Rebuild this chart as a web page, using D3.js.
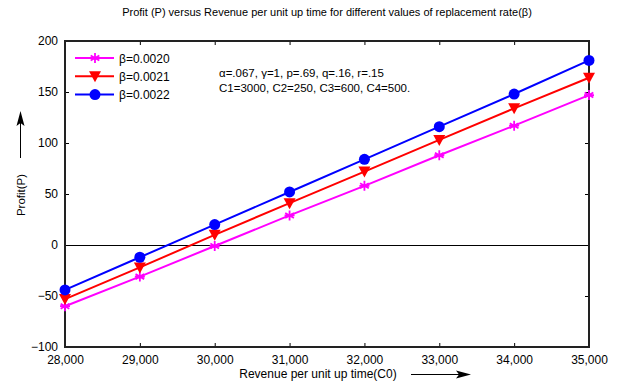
<!DOCTYPE html>
<html>
<head>
<meta charset="utf-8">
<style>
  body { margin: 0; background: #fff; }
  text { font-family: "Liberation Sans", Arial, sans-serif; fill: #000; }
</style>
</head>
<body>
<svg id="chart" width="621" height="382"></svg>
<script src="https://cdn.jsdelivr.net/npm/d3@7"></script>
<script>
var revenue = [28000, 29000, 30000, 31000, 32000, 33000, 34000, 35000];
var beta20 = [-60, -31, -1, 29, 58, 88, 117, 147];
var beta21 = [-53, -22, 10, 41, 72, 103, 134, 164];
var beta22 = [-44, -12, 20, 52, 84, 116, 148, 181];
var seriesNames = ["\u03b2=0.0020", "\u03b2=0.0021", "\u03b2=0.0022"];
var yTicks = [-100, -50, 0, 50, 100, 150, 200];

var series = [
  { name: seriesNames[0], values: beta20, color: "#ff00ff", marker: "star" },
  { name: seriesNames[1], values: beta21, color: "#ff0000", marker: "tri" },
  { name: seriesNames[2], values: beta22, color: "#0000ff", marker: "circle" }
];

var svg = d3.select("#chart");
var plotLeft = 65, plotRight = 589, plotTop = 41, plotBottom = 347;

var x = d3.scaleLinear().domain([28000, 35000]).range([plotLeft, plotRight]);
var y = d3.scaleLinear().domain([-100, 200]).range([plotBottom, plotTop]);

// title
svg.append("text")
  .attr("x", 327).attr("y", 16)
  .attr("text-anchor", "middle")
  .style("font-size", "11px")
  .text("Profit (P) versus Revenue per unit up time for different values of replacement rate(\u03b2)");

// zero line
svg.append("line")
  .attr("x1", plotLeft).attr("x2", plotRight)
  .attr("y1", y(0) + 0.5).attr("y2", y(0) + 0.5)
  .attr("stroke", "#000").attr("stroke-width", 1);

// axes (ticks pointing inward, matlab style)
var fmt = d3.format(",");
svg.append("g")
  .attr("transform", "translate(0," + plotBottom + ")")
  .call(d3.axisBottom(x).tickValues(revenue).tickFormat(fmt).tickSizeInner(-4).tickSizeOuter(0).tickPadding(8))
  .call(function (g) { g.select(".domain").remove(); g.selectAll("text").style("font-size", "12px"); });
svg.append("g")
  .attr("transform", "translate(0," + plotTop + ")")
  .call(d3.axisTop(x).tickValues(revenue).tickFormat("").tickSizeInner(-4).tickSizeOuter(0))
  .call(function (g) { g.select(".domain").remove(); });
svg.append("g")
  .attr("transform", "translate(" + plotLeft + ",0)")
  .call(d3.axisLeft(y).tickValues(yTicks).tickSizeInner(-4).tickSizeOuter(0).tickPadding(7))
  .call(function (g) { g.select(".domain").remove(); g.selectAll("text").style("font-size", "12px"); });
svg.append("g")
  .attr("transform", "translate(" + plotRight + ",0)")
  .call(d3.axisRight(y).tickValues(yTicks).tickFormat("").tickSizeInner(-4).tickSizeOuter(0))
  .call(function (g) { g.select(".domain").remove(); });

svg.append("rect")
  .attr("x", plotLeft).attr("y", plotTop)
  .attr("width", plotRight - plotLeft).attr("height", plotBottom - plotTop)
  .attr("fill", "none").attr("stroke", "#222").attr("stroke-width", 2);

// marker drawing
function drawMarker(g, type, color, cx, cy) {
  if (type === "circle") {
    g.append("circle").attr("cx", cx).attr("cy", cy).attr("r", 5.5).attr("fill", color);
  } else if (type === "tri") {
    g.append("path")
      .attr("d", "M" + (cx - 6) + "," + (cy - 5) + "L" + (cx + 6) + "," + (cy - 5) + "L" + cx + "," + (cy + 6) + "Z")
      .attr("fill", color);
  } else {
    var p = "";
    [0, 60, 120].forEach(function (a) {
      var r = a * Math.PI / 180, dx = 5 * Math.sin(r), dy = 5 * Math.cos(r);
      p += "M" + (cx - dx) + "," + (cy - dy) + "L" + (cx + dx) + "," + (cy + dy);
    });
    p += "M" + (cx - 5) + "," + cy + "L" + (cx + 5) + "," + cy;
    g.append("path").attr("d", p).attr("stroke", color).attr("stroke-width", 1.8).attr("fill", "none");
  }
}

var line = d3.line().x(function (d, i) { return x(revenue[i]); }).y(function (d) { return y(d); });

series.forEach(function (s) {
  var g = svg.append("g");
  g.append("path").datum(s.values)
    .attr("d", line).attr("fill", "none")
    .attr("stroke", s.color).attr("stroke-width", 2);
  s.values.forEach(function (v, i) { drawMarker(g, s.marker, s.color, x(revenue[i]), y(v)); });
});

// legend
series.forEach(function (s, i) {
  var ly = 58 + i * 18.3;
  var g = svg.append("g");
  g.append("line").attr("x1", 75).attr("x2", 114).attr("y1", ly).attr("y2", ly)
    .attr("stroke", s.color).attr("stroke-width", 2);
  drawMarker(g, s.marker, s.color, 95, ly);
  g.append("text").attr("x", 119).attr("y", ly + 4.5)
    .style("font-size", "12px").text(s.name);
});

// parameter annotation
svg.append("text").attr("x", 219).attr("y", 77).style("font-size", "11.5px")
  .text("\u03b1=.067, \u03b3=1, p=.69, q=.16, r=.15");
svg.append("text").attr("x", 219).attr("y", 92).style("font-size", "11.5px")
  .text("C1=3000, C2=250, C3=600, C4=500.");

// axis labels with arrows
svg.append("text")
  .attr("transform", "translate(25,195) rotate(-90)")
  .attr("text-anchor", "middle").style("font-size", "11.5px")
  .text("Profit(P)");
svg.append("line").attr("x1", 20.5).attr("x2", 20.5).attr("y1", 158).attr("y2", 120)
  .attr("stroke", "#000").attr("stroke-width", 1);
svg.append("path").attr("d", "M20.5,111 L16.5,126 L20.5,123 L24.5,126 Z").attr("fill", "#000");

svg.append("text")
  .attr("x", 318).attr("y", 378)
  .attr("text-anchor", "middle").style("font-size", "12px")
  .text("Revenue per unit up time(C0)");
svg.append("line").attr("x1", 411).attr("x2", 462).attr("y1", 374.5).attr("y2", 374.5)
  .attr("stroke", "#000").attr("stroke-width", 1);
svg.append("path").attr("d", "M471,374.5 L456,370.5 L459,374.5 L456,378.5 Z").attr("fill", "#000");
</script>
</body>
</html>
